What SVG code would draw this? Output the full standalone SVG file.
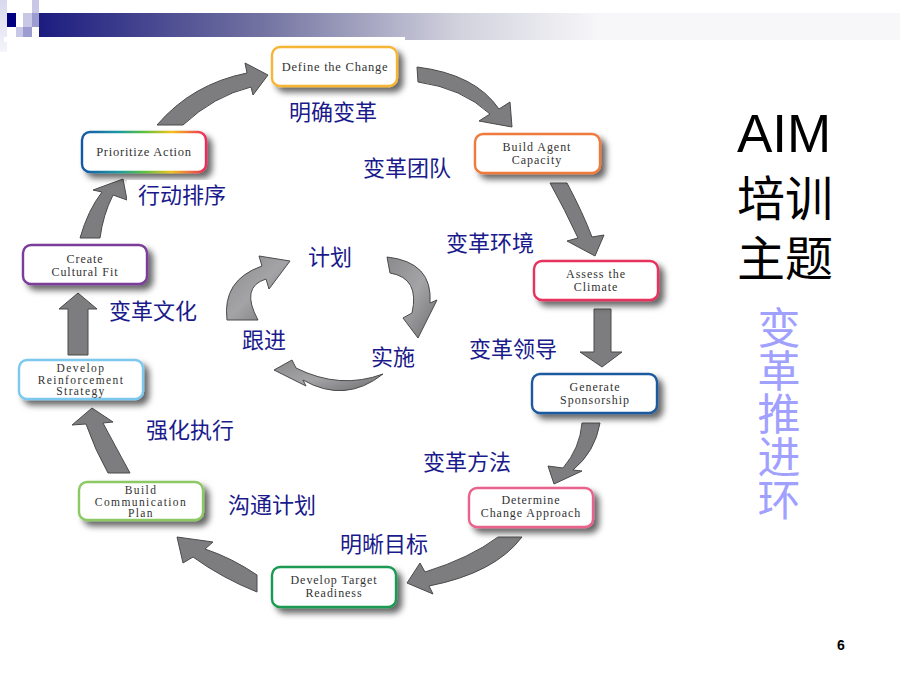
<svg xmlns="http://www.w3.org/2000/svg" width="900" height="675" viewBox="0 0 900 675">
<style>
.node rect{fill:#fff;stroke-width:2.4}
.nt{font-family:"Liberation Serif","Times New Roman",serif;font-size:12.5px;fill:#333;text-anchor:middle;letter-spacing:0.75px}
.nt2{font-size:12px;letter-spacing:0.95px}
.nt3{font-size:11.5px;letter-spacing:1.4px}
.lbl{font-family:"Noto Sans CJK SC","Noto Sans",sans-serif;font-size:22px;fill:#1a1a8c}
.arr{fill:#7d7d7f;stroke:#4a4a4a;stroke-width:1}
.iarr{fill:url(#ig);stroke:#4a4a4a;stroke-width:1}
.side{font-family:"Liberation Sans","Noto Sans CJK SC",sans-serif;font-size:53px;fill:#000}
.cjk{font-size:48px}
.vt{font-family:"Noto Sans CJK SC",sans-serif;font-size:43px;fill:#a0a0ff;writing-mode:vertical-rl}
</style>
<defs>
<linearGradient id="hdr" gradientUnits="userSpaceOnUse" x1="39" y1="0" x2="600" y2="0">
<stop offset="0" stop-color="#1c1c80"/>
<stop offset="0.4" stop-color="#7373a2"/>
<stop offset="0.75" stop-color="#d2d2de"/>
<stop offset="1" stop-color="#f7f7f9"/>
</linearGradient>
<linearGradient id="strip" x1="0" y1="0" x2="0" y2="1">
<stop offset="0" stop-color="#d8d8ee"/>
<stop offset="1" stop-color="#f4f4fa"/>
</linearGradient>
<linearGradient id="rainbow" x1="0" y1="0" x2="1" y2="0">
<stop offset="0" stop-color="#1458a8"/>
<stop offset="0.3" stop-color="#1e9aa0"/>
<stop offset="0.5" stop-color="#5cc040"/>
<stop offset="0.72" stop-color="#f2c21c"/>
<stop offset="1" stop-color="#ee2a5a"/>
</linearGradient>
<linearGradient id="ig" x1="0" y1="0" x2="1" y2="1">
<stop offset="0" stop-color="#8a8a8c"/>
<stop offset="0.5" stop-color="#a4a4a6"/>
<stop offset="1" stop-color="#6e6e70"/>
</linearGradient>
<filter id="sh" x="-20%" y="-30%" width="150%" height="180%">
<feGaussianBlur in="SourceAlpha" stdDeviation="3"/>
<feOffset dx="5" dy="5" result="b"/>
<feFlood flood-color="#000" flood-opacity="0.6"/>
<feComposite in2="b" operator="in"/>
<feMerge><feMergeNode/><feMergeNode in="SourceGraphic"/></feMerge>
</filter>
</defs>
<rect width="900" height="675" fill="#fff"/>
<g id="header">
<rect x="0" y="0" width="7" height="52" fill="url(#strip)"/>
<rect x="39" y="13" width="861" height="27" fill="url(#hdr)"/>
<rect x="7" y="13" width="9" height="14" fill="#000080"/>
<rect x="23" y="13" width="9" height="14" fill="#c8c8e6"/>
<rect x="32" y="0" width="7" height="13" fill="#c8c8e6"/>
<rect x="32" y="13" width="7" height="14" fill="#9c9cd0"/>
<rect x="16" y="27" width="7" height="10" fill="#c8c8e6"/>
<rect x="23" y="27" width="9" height="10" fill="#9c9cd0"/>
<rect x="4" y="37" width="401" height="5" fill="#fff"/>
</g>
<g id="connectors">
<path class="arr" d="M157,125 Q192,84 247,73 L245,63 L268,75 L253,95 L251,87 Q214,96 183,125 Z"/>
<path class="arr" d="M417,67 Q475,74 499,109 L510,102 L512,127 L479,121 L490,114 Q462,88 418,82 Z"/>
<path class="arr" d="M550,183 L567,183 Q583,213 592,237 L604,235 L595,256 L567,241 L578,238 Q565,210 550,183 Z"/>
<path class="arr" d="M594,309 L611,309 L611,352 L622,352 L602,367 L580,352 L594,352 Z"/>
<path class="arr" d="M582,423 L600,423 Q595,452 573,470 L582,471 L554,484 L548,466 L563,468 Q580,448 582,423 Z"/>
<path class="arr" d="M498,537 L522,537 Q495,573 429,586 L433,594 L407,583 L420,563 L425,572 Q470,558 498,537 Z"/>
<path class="arr" d="M257,575 Q232,558 205,549 L213,542 L177,537 L183,563 L193,557 Q222,578 257,592 Z"/>
<path class="arr" d="M108,473 L130,473 Q112,440 103,423 L113,422 L92,408 L72,425 L86,424 Q95,450 108,473 Z"/>
<path class="arr" d="M68,355 L88,355 L88,309 L97,309 L78,293 L59,309 L68,309 Z"/>
<path class="arr" d="M80,238 Q88,210 102,192 L93,190 L123,179 L127,200 L113,195 Q103,215 100,238 Z"/>
<path class="iarr" d="M227,320 Q222,280 262,266 L259,256 L290,261 L269,289 L266,279 Q240,287 258,320 Z"/>
<path class="iarr" d="M387,257 Q433,262 430,303 L437,300 L418,338 L403,318 L412,313 Q420,278 390,273 Z"/>
<path class="iarr" d="M383,374 Q345,404 303,380 L306,386 L274,370 L292,360 L296,368 Q340,390 383,374 Z"/>
</g>
<g id="n-define" class="node">
<rect x="272" y="47" width="125" height="39" rx="8" stroke="#f5b535" filter="url(#sh)"/>
<text class="nt" x="335" y="71">Define the Change</text>
</g>
<g id="n-agent" class="node">
<rect x="475" y="134" width="125" height="39" rx="8" stroke="#f07a3c" filter="url(#sh)"/>
<text class="nt nt2" x="537" y="151"><tspan x="537">Build Agent</tspan><tspan x="537" dy="13">Capacity</tspan></text>
</g>
<g id="n-climate" class="node">
<rect x="534" y="261" width="124" height="39" rx="8" stroke="#e6305c" filter="url(#sh)"/>
<text class="nt nt2" x="596" y="277.5"><tspan x="596">Assess the</tspan><tspan x="596" dy="13">Climate</tspan></text>
</g>
<g id="n-sponsor" class="node">
<rect x="532" y="374" width="125" height="39" rx="8" stroke="#1e5a9e" filter="url(#sh)"/>
<text class="nt nt2" x="595" y="391"><tspan x="595">Generate</tspan><tspan x="595" dy="13">Sponsorship</tspan></text>
</g>
<g id="n-approach" class="node">
<rect x="469" y="488" width="124" height="39" rx="8" stroke="#e8628c" filter="url(#sh)"/>
<text class="nt nt2" x="531" y="504"><tspan x="531">Determine</tspan><tspan x="531" dy="13">Change Approach</tspan></text>
</g>
<g id="n-target" class="node">
<rect x="272" y="567" width="124" height="40" rx="8" stroke="#1a9a52" filter="url(#sh)"/>
<text class="nt nt2" x="334" y="583.5"><tspan x="334">Develop Target</tspan><tspan x="334" dy="13">Readiness</tspan></text>
</g>
<g id="n-comm" class="node">
<rect x="79" y="482" width="124" height="38" rx="8" stroke="#8cc864" filter="url(#sh)"/>
<text class="nt nt3" x="141" y="494"><tspan x="141">Build</tspan><tspan x="141" dy="11.5">Communication</tspan><tspan x="141" dy="11.5">Plan</tspan></text>
</g>
<g id="n-reinforce" class="node">
<rect x="19" y="360" width="124" height="39" rx="8" stroke="#7cc8ee" filter="url(#sh)"/>
<text class="nt nt3" x="81" y="372"><tspan x="81">Develop</tspan><tspan x="81" dy="11.5">Reinforcement</tspan><tspan x="81" dy="11.5">Strategy</tspan></text>
</g>
<g id="n-culture" class="node">
<rect x="23" y="245" width="124" height="39" rx="8" stroke="#7a3c9a" filter="url(#sh)"/>
<text class="nt nt2" x="85" y="263"><tspan x="85">Create</tspan><tspan x="85" dy="13">Cultural Fit</tspan></text>
</g>
<g id="n-priority" class="node">
<rect x="82" y="132" width="124" height="40" rx="8" stroke="url(#rainbow)" filter="url(#sh)"/>
<text class="nt" x="144" y="156">Prioritize Action</text>
</g>
<g id="labels">
<rect x="286" y="98" width="104" height="28" fill="#fff"/>
<text class="lbl" x="289" y="120">明确变革</text>
<text class="lbl" x="363" y="176">变革团队</text>
<rect x="127" y="180" width="104" height="28" fill="#fff"/>
<text class="lbl" x="138" y="203">行动排序</text>
<text class="lbl" x="446" y="251">变革环境</text>
<text class="lbl" x="109" y="319">变革文化</text>
<text class="lbl" x="308" y="265">计划</text>
<text class="lbl" x="242" y="348">跟进</text>
<text class="lbl" x="371" y="365">实施</text>
<text class="lbl" x="469" y="357">变革领导</text>
<text class="lbl" x="146" y="438">强化执行</text>
<text class="lbl" x="423" y="470">变革方法</text>
<rect x="218" y="488" width="104" height="36" fill="#fff"/>
<text class="lbl" x="228" y="513">沟通计划</text>
<text class="lbl" x="340" y="552">明晰目标</text>
</g>
<g id="title">
<text class="side" x="737" y="152">AIM</text>
<text class="side cjk" x="737" y="216">培训</text>
<text class="side cjk" x="737" y="276">主题</text>
<text class="vt" x="779" y="306">变革推进环</text>
</g>
<text x="841" y="650" font-family="Liberation Sans,sans-serif" font-size="14" font-weight="bold" text-anchor="middle" fill="#000">6</text>
</svg>
